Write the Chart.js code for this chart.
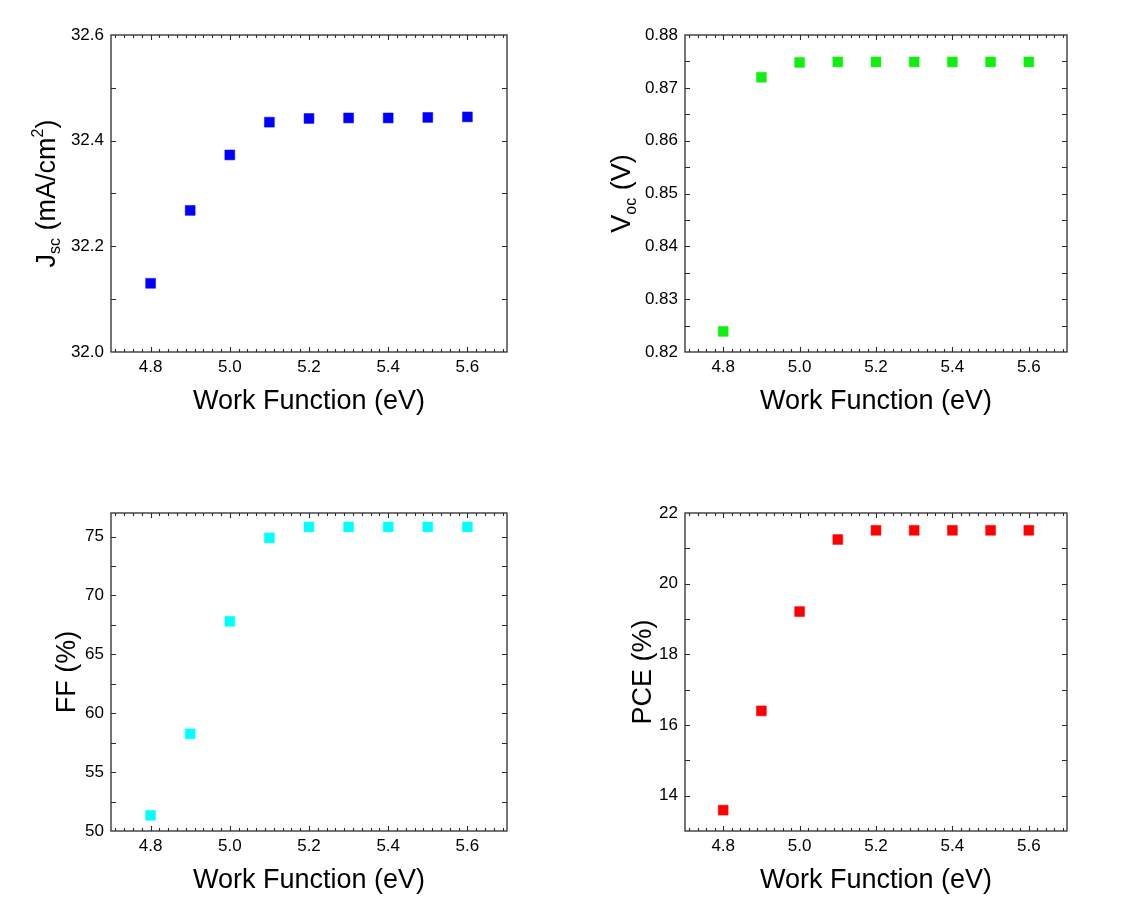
<!DOCTYPE html>
<html>
<head>
<meta charset="utf-8">
<title>Work function sweep</title>
<script src="https://cdn.jsdelivr.net/npm/chart.js@4.4.1/dist/chart.umd.min.js"></script>
<style>
  html, body { margin: 0; padding: 0; background: #fff; }
  #page { position: relative; width: 1145px; height: 898px; overflow: hidden; }
  .panel { position: absolute; }
</style>
</head>
<body>
<div id="page">
  <canvas id="jsc" class="panel" width="565" height="449" style="left:0;top:0"></canvas>
  <canvas id="voc" class="panel" width="575" height="449" style="left:570px;top:0"></canvas>
  <canvas id="ff" class="panel" width="565" height="449" style="left:0;top:449px"></canvas>
  <canvas id="pce" class="panel" width="575" height="449" style="left:570px;top:449px"></canvas>
</div>
<script>
// work function of the contact (eV)
const workFunction = [4.8, 4.9, 5.0, 5.1, 5.2, 5.3, 5.4, 5.5, 5.6];

// values
const jscValues = [32.130, 32.268, 32.373, 32.435, 32.442, 32.443, 32.443, 32.444, 32.445];
const vocValues = [0.8239, 0.8720, 0.8748, 0.8749, 0.8749, 0.8749, 0.8749, 0.8749, 0.8749];
const ffValues  = [51.33, 58.25, 67.80, 74.89, 75.82, 75.82, 75.82, 75.82, 75.82];
const pceValues = [13.59, 16.40, 19.21, 21.25, 21.51, 21.51, 21.51, 21.51, 21.51];

// tick labels
const xTickLabels = [4.8, 5.0, 5.2, 5.4, 5.6];
const jscTicks = [32.0, 32.2, 32.4, 32.6];
const vocTicks = [0.82, 0.83, 0.84, 0.85, 0.86, 0.87, 0.88];
const ffTicks  = [50, 55, 60, 65, 70, 75];
const pceTicks = [14, 16, 18, 20, 22];

const FONT = "'Liberation Sans', Arial, sans-serif";

// box, inward ticks on all four sides and the axis titles
// (panel settings kept in the closure, not in chart options)
function frameTicks(p) {
  return {
    id: 'frameTicks',
    afterDatasetsDraw(chart) {
      const ctx = chart.ctx;
      const a = chart.chartArea;
      const x = chart.scales.x, y = chart.scales.y;
      ctx.save();
      ctx.strokeStyle = '#2b2b2b';
      ctx.lineWidth = 1.3;
      ctx.strokeRect(a.left, a.top, a.right - a.left, a.bottom - a.top);

      ctx.lineWidth = 1.1;
      const tickX = (v, len) => {
        const px = Math.round(x.getPixelForValue(v)) + 0.5;
        ctx.moveTo(px, a.bottom); ctx.lineTo(px, a.bottom - len);
        ctx.moveTo(px, a.top); ctx.lineTo(px, a.top + len);
      };
      const tickY = (v, len) => {
        const py = Math.round(y.getPixelForValue(v)) + 0.5;
        ctx.moveTo(a.left, py); ctx.lineTo(a.left + len, py);
        ctx.moveTo(a.right, py); ctx.lineTo(a.right - len, py);
      };
      ctx.beginPath();
      // x: major every 0.2, nine minor steps between
      const xStep = 0.2 / 9;
      for (let k = -5; k <= 45; k++) {
        const v = 4.8 + k * xStep;
        if (v <= x.min + 1e-6 || v >= x.max - 1e-6) continue;
        tickX(v, k % 9 === 0 ? 5 : 3);
      }
      // y: labelled ticks plus one tick half way
      p.yTicks.forEach(v => {
        if (v > y.min + 1e-9 && v < y.max - 1e-9) tickY(v, 5);
      });
      for (let v = p.yTicks[0] - p.yMinor; v < y.max; v += p.yMinor * 2) {
        if (v > y.min + 1e-9 && v < y.max - 1e-9) tickY(v, 5);
      }
      ctx.stroke();

      // x title
      ctx.fillStyle = '#000';
      ctx.font = '27px ' + FONT;
      ctx.textAlign = 'center';
      ctx.textBaseline = 'middle';
      ctx.fillText('Work Function (eV)', (a.left + a.right) / 2, a.bottom + 50);

      // y title with sub/superscripts, rotated
      const segs = p.yTitle;
      ctx.textAlign = 'left';
      ctx.textBaseline = 'alphabetic';
      const widths = segs.map(s => {
        ctx.font = s.size + 'px ' + FONT;
        return ctx.measureText(s.t).width;
      });
      const total = widths.reduce((m, w) => m + w, 0);
      ctx.translate(a.left + p.titleBase, (a.top + a.bottom) / 2);
      ctx.rotate(-Math.PI / 2);
      let cx = -total / 2;
      segs.forEach((s, i) => {
        ctx.font = s.size + 'px ' + FONT;
        ctx.fillText(s.t, cx, s.shift || 0);
        cx += widths[i];
      });
      ctx.restore();
    }
  };
}

function makePanel(id, values, color, p) {
  new Chart(document.getElementById(id), {
    type: 'scatter',
    data: {
      datasets: [{
        data: workFunction.map((w, i) => ({ x: w, y: values[i] })),
        backgroundColor: color,
        borderColor: color,
        borderWidth: 0.5,
        pointStyle: 'rect',
        pointRadius: 7,
        pointHoverRadius: 7
      }]
    },
    options: {
      responsive: false,
      animation: false,
      events: [],
      layout: { padding: { top: p.padTop, right: p.padRight, left: 0, bottom: 0 } },
      plugins: {
        legend: { display: false },
        tooltip: { enabled: false }
      },
      scales: {
        x: {
          type: 'linear',
          min: 4.7, max: 5.7,
          grid: { display: false, drawTicks: false },
          border: { display: false },
          afterBuildTicks: s => { s.ticks = xTickLabels.map(v => ({ value: v })); },
          afterFit: s => { s.height = p.xHeight; },
          ticks: {
            padding: 5,
            color: '#000',
            font: { family: FONT, size: 17 },
            callback: v => v.toFixed(1)
          }
        },
        y: {
          type: 'linear',
          min: p.yMin, max: p.yMax,
          grid: { display: false, drawTicks: false },
          border: { display: false },
          afterBuildTicks: s => { s.ticks = p.yTicks.map(v => ({ value: v })); },
          afterFit: s => { s.width = p.yWidth; },
          ticks: {
            padding: 7,
            color: '#000',
            font: { family: FONT, size: 17 },
            callback: v => v.toFixed(p.decimals)
          }
        }
      }
    },
    plugins: [frameTicks(p)]
  });
}

makePanel('jsc', jscValues, '#0000ff', {
  yMin: 32.0, yMax: 32.6, yTicks: jscTicks, yMinor: 0.1, decimals: 1,
  padTop: 35, padRight: 58, yWidth: 111, xHeight: 97, titleBase: -56,
  yTitle: [
    { t: 'J', size: 27 },
    { t: 'sc', size: 16, shift: 5 },
    { t: ' (mA/cm', size: 27 },
    { t: '2', size: 16, shift: -12 },
    { t: ')', size: 27 }
  ]
});

makePanel('voc', vocValues, '#11ee11', {
  yMin: 0.82, yMax: 0.88, yTicks: vocTicks, yMinor: 0.005, decimals: 2,
  padTop: 35, padRight: 78, yWidth: 115, xHeight: 97, titleBase: -55,
  yTitle: [
    { t: 'V', size: 27 },
    { t: 'oc', size: 16, shift: 6 },
    { t: ' (V)', size: 27 }
  ]
});

makePanel('ff', ffValues, '#00ffff', {
  yMin: 50, yMax: 77, yTicks: ffTicks, yMinor: 2.5, decimals: 0,
  padTop: 64, padRight: 58, yWidth: 111, xHeight: 67, titleBase: -36,
  yTitle: [{ t: 'FF (%)', size: 27 }]
});

makePanel('pce', pceValues, '#ff0000', {
  yMin: 13, yMax: 22, yTicks: pceTicks, yMinor: 1, decimals: 0,
  padTop: 64, padRight: 78, yWidth: 115, xHeight: 67, titleBase: -34,
  yTitle: [{ t: 'PCE (%)', size: 27 }]
});
</script>
</body>
</html>
